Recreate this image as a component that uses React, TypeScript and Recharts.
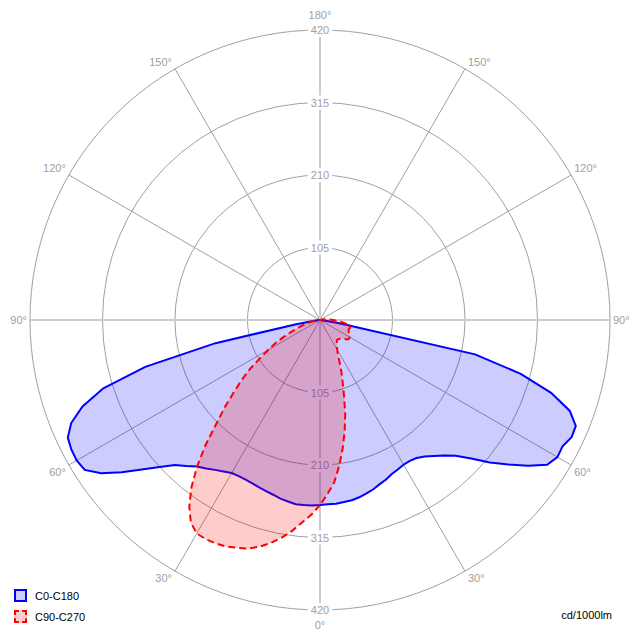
import React from "react";
import { RadarChart, Radar, PolarGrid, PolarAngleAxis, PolarRadiusAxis } from "recharts";

// photometric gamma angles, 0 (down) .. 180 (up), every 2.5 deg
const GAMMA = Array.from({ length: 73 }, (_, i) => i * 2.5);

// cd/1000lm, left half of the diagram (C180 / C270), index = gamma / 2.5
const C180 = [
  268, 269, 269, 269, 267, 265, 262, 260, 258, 256, 255, 255, 256, 260, 265, 271, 277, 287, 297, 315,
  337, 362, 387, 404, 407, 406, 403, 390, 366, 329, 262, 155, 35, 10, 4, 2, 0,
  0, 0, 0, 0, 0, 0, 0, 0, 0, 0, 0, 0, 0, 0, 0, 0, 0, 0, 0, 0, 0, 0, 0, 0, 0, 0, 0, 0, 0, 0, 0, 0, 0, 0, 0, 0,
];
const C270 = [
  268, 282, 294, 308, 320, 331, 340, 347, 351, 355, 357, 358, 357, 348, 330, 306, 277, 245, 212, 187,
  163, 143, 124, 103, 87, 73, 58, 45, 36, 28, 20, 14, 10, 7, 5, 3, 2, 1, 0,
  0, 0, 0, 0, 0, 0, 0, 0, 0, 0, 0, 0, 0, 0, 0, 0, 0, 0, 0, 0, 0, 0, 0, 0, 0, 0, 0, 0, 0, 0, 0, 0, 0, 0, 0,
];
// right half (C0 / C90)
const C0 = [
  268, 267, 267, 266, 265, 263, 260, 257, 253, 250, 246, 244, 242, 242, 244, 249, 257, 266, 278, 297,
  321, 344, 368, 390, 397, 396, 402, 401, 385, 351, 301, 230, 30, 8, 3, 1, 0,
  0, 0, 0, 0, 0, 0, 0, 0, 0, 0, 0, 0, 0, 0, 0, 0, 0, 0, 0, 0, 0, 0, 0, 0, 0, 0, 0, 0, 0, 0, 0, 0, 0, 0, 0, 0,
];
const C90 = [
  268, 252, 236, 213, 189, 165, 141, 116, 96, 81, 67, 56, 50, 46, 43, 40, 38, 38, 39, 40,
  42, 45, 49, 50, 50, 49, 47, 45, 44, 44, 45, 45, 42, 37, 30, 24, 19, 14, 10, 7, 5, 3, 2, 1, 0,
  0, 0, 0, 0, 0, 0, 0, 0, 0, 0, 0, 0, 0, 0, 0, 0, 0, 0, 0, 0, 0, 0, 0, 0, 0, 0, 0, 0,
];

const RADIUS_TICKS = [105, 210, 315, 420];
const MAIN_SPOKES = [0, 90, 180, 270];
const THIN_SPOKES = [30, 60, 120, 150, 210, 240, 300, 330];

const SERIES = [
  { key: "c0", name: "C0-C180", color: "#0000ff", dash: undefined },
  { key: "c90", name: "C90-C270", color: "#ff0000", dash: "7 4" },
];

const CX = 320;
const CY = 320;
const R = 290;
const FONT = "'Liberation Sans', Arial, sans-serif";

// full circle, theta clockwise from the bottom (left side first)
const n = (GAMMA.length - 1) * 2;
const rows = Array.from({ length: n }, (_, k) => {
  const theta = GAMMA[1] * k;
  const left = theta <= 180;
  const i = left ? k : n - k;
  return { angle: theta, c0: left ? C180[i] : C0[i], c90: left ? C270[i] : C90[i] };
});

const toChartAngle = (theta: number) => -90 - theta;

function AngleTick(props: any) {
  const { x, y, payload } = props;
  const theta = Number(payload.value);
  if (theta % 30 !== 0) return <g />;
  const gamma = theta <= 180 ? theta : 360 - theta;
  const dx = x - CX;
  const dy = y - CY;
  const d = Math.hypot(dx, dy) || 1;
  const ux = dx / d;
  const uy = dy / d;
  const px = CX + R * ux;
  const py = CY + R * uy;
  let tx = px;
  let ty = py;
  let anchor: "start" | "middle" | "end" = "middle";
  if (Math.abs(ux) < 0.01) {
    ty = py + (uy > 0 ? 15 : -15);
  } else {
    anchor = ux < 0 ? "end" : "start";
    tx = px + (ux < 0 ? -3 : 3);
    if (Math.abs(uy) > 0.01) ty = py + (uy > 0 ? 7 : -7);
  }
  return (
    <text x={tx} y={ty} textAnchor={anchor} dominantBaseline="central" fontSize={11} fontFamily={FONT} fill="#a0a0a0">
      {gamma}°
    </text>
  );
}

function RadiusTick(props: any) {
  const { x, y, payload } = props;
  const label = String(payload.value);
  const w = label.length * 6.2 + 6;
  return (
    <g>
      {[y, 2 * CY - y].map((yy) => (
        <g key={yy}>
          <rect x={x - w / 2} y={yy - 7} width={w} height={14} fill="#ffffff" />
          <text x={x} y={yy} textAnchor="middle" dominantBaseline="central" fontSize={11} fontFamily={FONT} fill="#a0a0a0">
            {label}
          </text>
        </g>
      ))}
    </g>
  );
}

export default function App() {
  return (
    <div style={{ position: "absolute", left: 0, top: 0, width: 640, height: 640, background: "#fff", fontFamily: FONT }}>
      <RadarChart
        width={640}
        height={640}
        cx={CX}
        cy={CY}
        outerRadius={R}
        startAngle={-90}
        endAngle={-450}
        data={rows}
        margin={{ top: 0, right: 0, bottom: 0, left: 0 }}
      >
        <PolarGrid gridType="circle" polarAngles={THIN_SPOKES.map(toChartAngle)} stroke="#a0a0a0" strokeWidth={1} />
        <PolarGrid gridType="circle" polarAngles={MAIN_SPOKES.map(toChartAngle)} polarRadius={[]} stroke="#cccccc" strokeWidth={2} />
        <PolarAngleAxis dataKey="angle" tick={(p: any) => <AngleTick {...p} />} tickLine={false} axisLine={false} />
        <PolarRadiusAxis
          angle={90}
          type="number"
          domain={[0, 420]}
          ticks={RADIUS_TICKS as any}
          tick={(p: any) => <RadiusTick {...p} />}
          axisLine={false}
          tickLine={false}
        />
        {SERIES.map((s) => (
          <Radar
            key={s.key}
            name={s.name}
            dataKey={s.key}
            stroke={s.color}
            strokeWidth={2}
            strokeDasharray={s.dash}
            fill={s.color}
            fillOpacity={0.2}
            dot={false}
            isAnimationActive={false}
            {...({ zIndex: 700 } as any)}
          />
        ))}
      </RadarChart>
      {SERIES.map((s, i) => (
        <div
          key={s.key}
          style={{ position: "absolute", left: 14, top: 589 + i * 21, display: "flex", alignItems: "center", fontSize: 11, color: "#000" }}
        >
          <span
            style={{
              display: "inline-block",
              width: 13,
              height: 13,
              boxSizing: "border-box",
              border: `2px ${s.dash ? "dashed" : "solid"} ${s.color}`,
              background: s.dash ? "rgba(255,0,0,0.2)" : "rgba(0,0,255,0.2)",
              marginRight: 8,
            }}
          />
          {s.name}
        </div>
      ))}
      <div style={{ position: "absolute", right: 28, top: 609, fontSize: 11, color: "#000" }}>cd/1000lm</div>
    </div>
  );
}
